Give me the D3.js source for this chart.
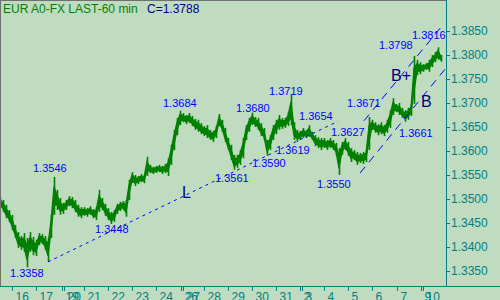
<!DOCTYPE html>
<html>
<head>
<meta charset="utf-8">
<script src="https://cdn.jsdelivr.net/npm/d3@7"></script>
<style>
  body { margin: 0; background: #c0dcc0; }
  svg { display: block; }
  text { font-family: "Liberation Sans", Arial, sans-serif; }
</style>
</head>
<body>
<div id="chart"></div>
<script>
// hourly bars sampled every 3 hours (1 px = 1 hour)
var step = 3;
var highs = [
  1.3504,1.3498,1.3488,1.3477,1.3467,1.3446,1.3431,1.3423,1.3429,1.3419,
  1.3431,1.3421,1.3415,1.3429,1.3427,1.3423,1.3419,1.3467,1.3546,1.3519,
  1.3502,1.3492,1.3498,1.3506,1.3504,1.3498,1.3488,1.3483,1.3483,1.3481,
  1.3485,1.3479,1.3483,1.3519,1.3502,1.3490,1.3481,1.3473,1.3477,1.3490,
  1.3494,1.3496,1.3498,1.3540,1.3556,1.3550,1.3548,1.3552,1.3550,1.3588,
  1.3571,1.3567,1.3569,1.3571,1.3569,1.3573,1.3585,1.3613,1.3644,1.3669,
  1.3684,1.3679,1.3675,1.3679,1.3673,1.3667,1.3665,1.3658,1.3652,1.3654,
  1.3644,1.3642,1.3652,1.3677,1.3665,1.3648,1.3627,1.3613,1.3592,1.3592,
  1.3602,1.3627,1.3654,1.3669,1.3680,1.3671,1.3669,1.3658,1.3648,1.3623,
  1.3633,1.3654,1.3665,1.3675,1.3669,1.3669,1.3681,1.3719,1.3660,1.3644,
  1.3642,1.3648,1.3644,1.3654,1.3640,1.3633,1.3629,1.3627,1.3627,1.3623,
  1.3627,1.3623,1.3617,1.3606,1.3619,1.3627,1.3619,1.3606,1.3602,1.3598,
  1.3596,1.3598,1.3602,1.3671,1.3665,1.3660,1.3656,1.3660,1.3654,1.3665,
  1.3685,1.3710,1.3698,1.3700,1.3690,1.3685,1.3690,1.3698,1.3798,1.3790,
  1.3785,1.3781,1.3783,1.3790,1.3800,1.3806,1.3816,1.3800
];
var lows = [
  1.3483,1.3473,1.3460,1.3452,1.3435,1.3419,1.3398,1.3394,1.3390,1.3358,
  1.3390,1.3383,1.3381,1.3404,1.3406,1.3394,1.3369,1.3419,1.3467,1.3477,
  1.3467,1.3469,1.3477,1.3485,1.3481,1.3473,1.3463,1.3460,1.3465,1.3463,
  1.3467,1.3460,1.3456,1.3473,1.3477,1.3465,1.3456,1.3448,1.3452,1.3469,
  1.3475,1.3477,1.3463,1.3498,1.3533,1.3527,1.3531,1.3535,1.3533,1.3548,
  1.3554,1.3552,1.3554,1.3556,1.3552,1.3554,1.3548,1.3571,1.3602,1.3633,
  1.3654,1.3660,1.3656,1.3658,1.3652,1.3644,1.3640,1.3635,1.3631,1.3627,
  1.3623,1.3619,1.3627,1.3652,1.3640,1.3619,1.3602,1.3581,1.3561,1.3565,
  1.3571,1.3585,1.3623,1.3640,1.3654,1.3650,1.3644,1.3631,1.3623,1.3590,
  1.3602,1.3623,1.3635,1.3644,1.3646,1.3648,1.3652,1.3654,1.3623,1.3619,
  1.3623,1.3627,1.3627,1.3629,1.3623,1.3610,1.3606,1.3602,1.3606,1.3602,
  1.3606,1.3602,1.3592,1.3550,1.3592,1.3602,1.3590,1.3577,1.3581,1.3571,
  1.3575,1.3573,1.3577,1.3602,1.3644,1.3638,1.3633,1.3635,1.3631,1.3638,
  1.3648,1.3675,1.3681,1.3675,1.3669,1.3661,1.3665,1.3673,1.3698,1.3758,
  1.3760,1.3765,1.3769,1.3765,1.3775,1.3785,1.3790,1.3786
];

// day labels and the hour where each session starts
var dayLabels = ["16","17","19","20","21","22","23","24","26","27","28","29","30","31","2","3","4","5","6","7","9","10"];
var dayHours  = [12,36,62,64,84,108,132,156,181,183,204,228,252,276,300,302,324,348,372,397,421,423];

var priceTicks = [1.3350,1.3400,1.3450,1.3500,1.3550,1.3600,1.3650,1.3700,1.3750,1.3800,1.3850];

// analyst notes: text, hour, price (baseline-left)
var noteTexts  = ["1.3358","1.3546","1.3448","1.3684","1.3561","1.3680","1.3590","1.3719","1.3619","1.3654","1.3550","1.3627","1.3671","1.3661","1.3798","1.3816"];
var noteHours  = [10,33,95,163,215,236,252,269,276,299,317,331,347,399,379,412];
var notePrices = [1.3338,1.3556,1.3429,1.3692,1.3535,1.3681,1.3567,1.3717,1.3594,1.3665,1.3523,1.3631,1.3692,1.3629,1.3813,1.3833];
var waveTexts  = ["L","B+","B"];
var waveHours  = [182,391,421];
var wavePrices = [1.3502,1.3746,1.3692];

// trend lines: [hour0, price0, hour1, price1]
var supportLine = [48,1.3369,338,1.3662];
var upperLine   = [364,1.3663,441,1.3858];
var lowerLine   = [360,1.3554,446,1.3773];

var lastClose = 1.3788;

var width = 500, height = 300;
var plotRight = 446, plotBottom = 286;

var x = d3.scaleLinear().domain([0, 446]).range([0, plotRight]);
var y = d3.scaleLinear().domain([1.3350, 1.3850]).range([271, 31]);

var svg = d3.select("#chart").append("svg")
  .attr("width", width)
  .attr("height", height);

svg.append("rect").attr("width", width).attr("height", height).attr("fill", "#c0dcc0");

svg.append("defs").append("clipPath").attr("id", "plot")
  .append("rect").attr("x", 0).attr("y", 0).attr("width", plotRight).attr("height", plotBottom);

var plot = svg.append("g").attr("clip-path", "url(#plot)");

// price band (mid of each bar) + high/low bars
var mid = highs.map(function(h, i) { return (h * 3 + lows[i]) / 4; });
var midLow = highs.map(function(h, i) { return (h + lows[i] * 3) / 4; });
var band = d3.area()
  .x(function(d, i) { return x(i * step); })
  .y0(function(d, i) { return y(midLow[i]); })
  .y1(function(d) { return y(d); });
plot.append("path")
  .datum(mid)
  .attr("d", band)
  .attr("fill", "#008000")
  .attr("stroke", "#008000")
  .attr("stroke-width", 1.2);

plot.selectAll("line.bar")
  .data(highs)
  .enter().append("line")
    .attr("class", "bar")
    .attr("x1", function(d, i) { return x(i * step) + 0.5; })
    .attr("x2", function(d, i) { return x(i * step) + 0.5; })
    .attr("y1", function(d) { return y(d); })
    .attr("y2", function(d, i) { return y(lows[i]); })
    .attr("stroke", "#008000")
    .attr("stroke-width", 1.6);

// trend lines
function trend(l, dash) {
  plot.append("line")
    .attr("x1", x(l[0])).attr("y1", y(l[1]))
    .attr("x2", x(l[2])).attr("y2", y(l[3]))
    .attr("stroke", "#0000ff")
    .attr("stroke-width", 1)
    .attr("stroke-dasharray", dash);
}
trend(supportLine, "3,4");
trend(upperLine, "8,6");
trend(lowerLine, "8,6");

// notes
svg.selectAll("text.note")
  .data(noteTexts)
  .enter().append("text")
    .attr("class", "note")
    .attr("x", function(d, i) { return x(noteHours[i]); })
    .attr("y", function(d, i) { return y(notePrices[i]); })
    .attr("font-size", 11)
    .attr("fill", "#0000ff")
    .text(function(d) { return d; });

svg.selectAll("text.wave")
  .data(waveTexts)
  .enter().append("text")
    .attr("class", "wave")
    .attr("x", function(d, i) { return x(waveHours[i]); })
    .attr("y", function(d, i) { return y(wavePrices[i]); })
    .attr("font-size", 16)
    .attr("fill", "#000080")
    .text(function(d) { return d; });

// axes
var axisColor = "#008080";
var yAxis = svg.append("g")
  .attr("transform", "translate(" + plotRight + ",0)")
  .call(d3.axisRight(y).tickValues(priceTicks).tickFormat(d3.format(".4f")).tickSize(4).tickPadding(1));
yAxis.select(".domain").remove();
yAxis.selectAll("line").attr("stroke", axisColor);
yAxis.selectAll("text").attr("fill", axisColor).attr("font-size", 12).attr("font-family", "Liberation Sans, Arial, sans-serif");

svg.append("line")
  .attr("x1", plotRight + 0.5).attr("x2", plotRight + 0.5)
  .attr("y1", 0).attr("y2", plotBottom)
  .attr("stroke", axisColor);
svg.append("line")
  .attr("x1", 0).attr("x2", width)
  .attr("y1", plotBottom + 0.5).attr("y2", plotBottom + 0.5)
  .attr("stroke", axisColor);

var xTicks = svg.append("g").selectAll("g")
  .data(dayLabels)
  .enter().append("g")
    .attr("transform", function(d, i) { return "translate(" + (Math.round(x(dayHours[i])) + 0.5) + "," + plotBottom + ")"; });
xTicks.append("line").attr("y1", 0).attr("y2", 5).attr("stroke", axisColor);
xTicks.append("text")
  .attr("x", 3).attr("y", 15)
  .attr("font-size", 12)
  .attr("fill", axisColor)
  .text(function(d) { return d; });

// frame
svg.append("line").attr("x1", 0.5).attr("x2", 0.5).attr("y1", 0).attr("y2", plotBottom).attr("stroke", "#707070");
svg.append("line").attr("x1", 0).attr("x2", plotRight).attr("y1", 0.5).attr("y2", 0.5).attr("stroke", "#707070");

// title
svg.append("text").attr("x", 3).attr("y", 13).attr("font-size", 12).attr("fill", "#008000")
  .text("EUR A0-FX LAST-60 min");
svg.append("text").attr("x", 147).attr("y", 13).attr("font-size", 12).attr("fill", "#000080")
  .text("C=" + lastClose.toFixed(4));
</script>
</body>
</html>
